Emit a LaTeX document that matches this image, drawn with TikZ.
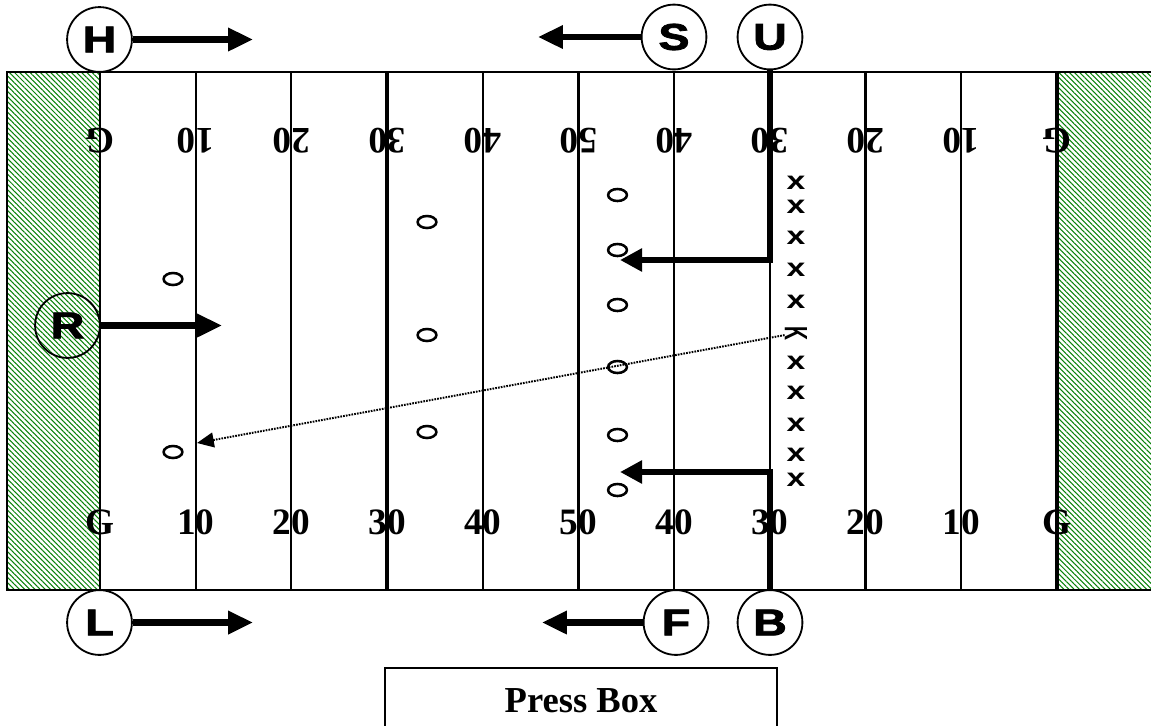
\documentclass[tikz,border=0pt]{standalone}
\usepackage{fontspec}
\setmainfont{Liberation Serif}
\setsansfont{Liberation Sans}
\newfontfamily\heavyfont{Liberation Sans Bold}[FakeBold=2]
\usepackage{graphicx}
\usepackage{tikz}
\usetikzlibrary{arrows.meta}
\usetikzlibrary{patterns.meta}
\usetikzlibrary{shapes.geometric}

\definecolor{turf}{RGB}{10,130,10}

\newcommand{\wideletter}[1]{\scalebox{1.25}[1]{#1}}

\tikzset{
  player/.style={circle, draw, line width=1.3pt, minimum size=1.62cm, inner sep=0pt,
    font=\heavyfont\fontsize{26.5}{26.5}\selectfont},
  run/.style={-{Triangle[length=0.62cm,width=0.55cm]}, line width=4.6pt},
  cover/.style={-{Triangle[length=0.55cm,width=0.55cm]}, line width=4.6pt},
  kickpath/.style={-{Triangle[length=0.42cm,width=0.37cm]},
    dash pattern=on 1.2pt off 0.8pt, line width=1.4pt},
  receiver/.style={ellipse, draw, line width=1.8pt, minimum width=0.47cm,
    minimum height=0.3cm, inner sep=0pt},
  coverage/.style={inner sep=0pt, yscale=0.75,
    font=\sffamily\bfseries\fontsize{24}{24}\selectfont},
  kicker/.style={inner sep=0pt, rotate=-90,
    font=\sffamily\bfseries\fontsize{23}{23}\selectfont},
  endzone/.style={pattern={Lines[angle=-45,distance=2.6pt,line width=0.75pt]},
    pattern color=turf},
  yardnum/.style={inner sep=0pt, font=\bfseries\fontsize{26.5}{26.5}\selectfont},
  pressbox/.style={draw, line width=1.3pt, minimum width=9.78cm, minimum height=1.65cm,
    inner sep=0pt, font=\bfseries\fontsize{26}{26}\selectfont}
}

\begin{document}
\begin{tikzpicture}[x=0.025cm, y=-0.025cm]

    \useasboundingbox (0,0) rectangle (1151,725);

    % Field
    \fill[endzone] (7,72) rectangle (100,590);
    \fill[endzone] (1057,72) rectangle (1151,590);

    \foreach \i/\lw in {0/1.3pt,1/1.3pt,2/1.3pt,3/2.6pt,4/1.3pt,5/2.6pt,
                        6/1.3pt,7/1.3pt,8/2.6pt,9/1.3pt,10/2.6pt} {
        \draw[line width=\lw] ({100+95.7*\i},72) -- ({100+95.7*\i},590);
    }
    \draw[line width=1.3pt] (1151,72) -- (7,72) -- (7,590) -- (1151,590);

    \foreach \i/\num in {0/G,1/10,2/20,3/30,4/40,5/50,6/40,7/30,8/20,9/10,10/G} {
        \node[yardnum]             (bot\i) at ({100+95.7*\i},522) {\num}; %
        \node[yardnum, rotate=180] (top\i) at ({100+95.7*\i},141) {\num}; %
    }

    % Nodes
    \node[player] (H) at (99.5,39.5)  {\wideletter{H}}; %
    \node[player] (S) at (674,37)     {\wideletter{S}}; %
    \node[player] (U) at (770,37)     {\wideletter{U}}; %
    \node[player] (L) at (99.5,622.5) {\wideletter{L}}; %
    \node[player] (F) at (676,622.5)  {\wideletter{F}}; %
    \node[player] (B) at (770,622.5)  {\wideletter{B}}; %
    \node[player] (R) at (67.5,325.5) {\wideletter{R}}; %

    \coordinate (h-end) at (253,39.5);
    \coordinate (s-end) at (538,37);
    \coordinate (l-end) at (253,622.5);
    \coordinate (f-end) at (542,622.5);
    \coordinate (r-end) at (222,325.5);
    \coordinate (u-end) at (620,260);
    \coordinate (b-end) at (620,472);
    \coordinate (k-end) at (197,443);

    \draw[run] (H) -- (h-end);
    \draw[run] (S) -- (s-end);
    \draw[run] (L) -- (l-end);
    \draw[run] (F) -- (f-end);
    \draw[run] (R) -- (r-end);
    \draw[cover] (U) |- (u-end);
    \draw[cover] (B) |- (b-end);

    % Kicking team
    \foreach \yy in {183,207,238,270,302,363,393,425,455,480} {
        \node[coverage] (x\yy) at (796,\yy) {x}; %
    }
    \node[kicker] (K) at (796,333) {\scalebox{0.6}[1]{K}}; %

    % Receiving team
    \foreach \yy in {195,250,305,367,435,490} {
        \node[receiver] (front\yy) at (617.5,\yy) {}; %
    }
    \foreach \yy in {222,335,432} {
        \node[receiver] (mid\yy) at (427,\yy) {}; %
    }
    \foreach \yy in {279,452} {
        \node[receiver] (deep\yy) at (173,\yy) {}; %
    }

    \draw[kickpath] (K) -- (k-end);

    \node[pressbox] (press) at (581,701) {Press Box}; %

\end{tikzpicture}
\end{document}
